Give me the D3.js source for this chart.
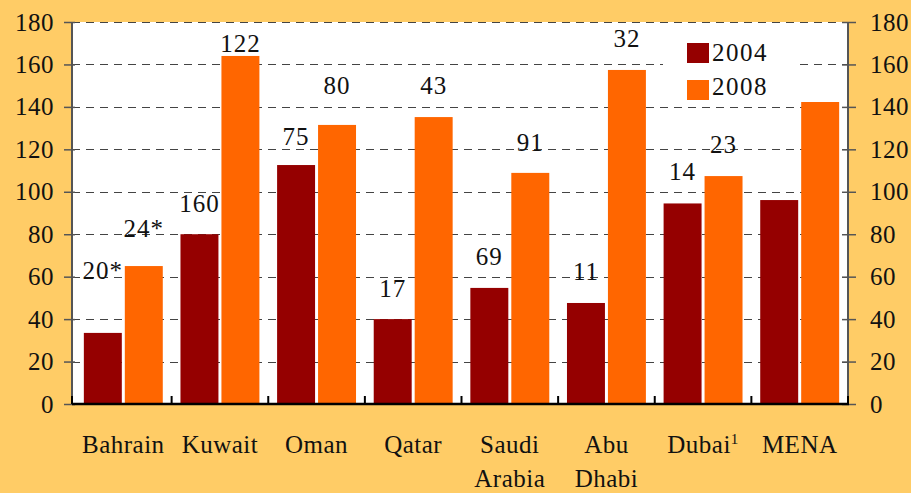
<!DOCTYPE html>
<html>
<head>
<meta charset="utf-8">
<script src="https://cdn.jsdelivr.net/npm/d3@7"></script>
<style>
  body { margin: 0; background: #FFCC66; }
  text { font-family: "Liberation Serif", "DejaVu Serif", serif; fill: #111; }
</style>
</head>
<body>
<div id="chart"></div>
<script>
// categories and series
var categories = ["Bahrain", "Kuwait", "Oman", "Qatar", "Saudi Arabia", "Abu Dhabi", "Dubai", "MENA"];
var series = ["2004", "2008"];
var values2004 = [33.5, 80, 112.6, 40, 54.7, 47.6, 94.5, 96.1];
var values2008 = [65, 164, 131.5, 135.2, 108.9, 157.4, 107.4, 142.3];
// annotations written above bars, and the height (in chart units) they sit at
var labels2004 = ["20*", "160", "75", "17", "69", "11", "14", ""];
var labels2008 = ["24*", "122", "80", "43", "91", "32", "23", ""];
var labelAt2004 = [59, 90.5, 122, 50.4, 65.5, 58.4, 105.6, 0];
var labelAt2008 = [78.7, 165.9, 146.1, 146.1, 119.2, 168.2, 118.3, 0];
var yTicks = [0, 20, 40, 60, 80, 100, 120, 140, 160, 180];

var colors = { "2004": "#950000", "2008": "#FF6600" };

var W = 911, H = 493;
var svg = d3.select("#chart").append("svg")
    .attr("width", W).attr("height", H);

var pLeft = 72, pRight = 848, pTop = 22, pBottom = 404;
var FS = "25px";

var y = d3.scaleLinear().domain([0, 180]).range([pBottom, pTop]);
var x0 = d3.scaleBand().domain(categories).range([75, pRight]).padding(0);
var x1 = d3.scaleBand().domain(series).range([0, x0.bandwidth()])
    .paddingInner(0.073).paddingOuter(0.216);

// plot area
svg.append("rect")
    .attr("x", pLeft).attr("y", pTop)
    .attr("width", pRight - pLeft).attr("height", pBottom - pTop)
    .attr("fill", "#fff");

// grid
svg.append("g").selectAll("line")
    .data(yTicks.filter(function(d) { return d > 0; }))
    .enter().append("line")
    .attr("x1", pLeft).attr("x2", pRight)
    .attr("y1", function(d) { return Math.round(y(d)) + 0.5; })
    .attr("y2", function(d) { return Math.round(y(d)) + 0.5; })
    .attr("stroke", "#444")
    .attr("stroke-dasharray", "8,6");

var data = [];
categories.forEach(function(c, i) {
    data.push({ cat: c, s: "2004", v: values2004[i], lab: labels2004[i], at: labelAt2004[i] });
    data.push({ cat: c, s: "2008", v: values2008[i], lab: labels2008[i], at: labelAt2008[i] });
});

// bars
svg.append("g").selectAll("rect")
    .data(data)
    .enter().append("rect")
    .attr("x", function(d) { return x0(d.cat) + x1(d.s); })
    .attr("y", function(d) { return y(d.v); })
    .attr("width", x1.bandwidth())
    .attr("height", function(d) { return y(0) - y(d.v); })
    .attr("fill", function(d) { return colors[d.s]; });

// annotations
svg.append("g").selectAll("text")
    .data(data.filter(function(d) { return d.lab; }))
    .enter().append("text")
    .attr("x", function(d) { return x0(d.cat) + x1(d.s) + x1.bandwidth() / 2; })
    .attr("y", function(d) { return y(d.at); })
    .attr("text-anchor", "middle")
    .style("font-size", FS)
    .style("letter-spacing", "1px")
    .text(function(d) { return d.lab; });

// legend
var lg = svg.append("g");
lg.append("rect").attr("x", 663).attr("y", 28).attr("width", 132).attr("height", 74).attr("fill", "#fff");
series.forEach(function(s, i) {
    lg.append("rect")
        .attr("x", 687).attr("y", 43 + i * 37)
        .attr("width", 22).attr("height", 20)
        .attr("fill", colors[s]);
    lg.append("text")
        .attr("x", 712).attr("y", 61 + i * 34)
        .style("font-size", FS)
        .style("letter-spacing", "1.5px")
        .text(s);
});

// left and right axes
var yl = svg.append("g").attr("transform", "translate(" + pLeft + ",0)")
    .call(d3.axisLeft(y).tickValues(yTicks).tickSize(8).tickPadding(10));
var yr = svg.append("g").attr("transform", "translate(" + pRight + ",0)")
    .call(d3.axisRight(y).tickValues(yTicks).tickSize(8).tickPadding(14));
[yl, yr].forEach(function(g) {
    g.select(".domain").attr("stroke", "#555").attr("stroke-width", 2).attr("d", "M0," + pTop + "V" + pBottom);
    g.selectAll(".tick line").attr("stroke", "#555").attr("stroke-width", 1.5)
        .attr("x1", function() { return g === yl ? 3 : -6; });
    g.selectAll(".tick text").style("font-size", FS).attr("fill", "#111")
        .style("letter-spacing", "0.5px")
        .style("font-family", "'Liberation Serif', 'DejaVu Serif', serif");
});

// bottom axis
var bx = svg.append("g").attr("transform", "translate(0," + pBottom + ")");
bx.append("line").attr("x1", pLeft).attr("x2", pRight + 1).attr("stroke", "#000").attr("stroke-width", 2.5);
var bounds = [pLeft].concat(categories.slice(1).map(function(c) { return x0(c); })).concat([pRight]);
bx.selectAll("line.tk").data(bounds).enter().append("line")
    .attr("class", "tk")
    .attr("x1", function(d) { return d; }).attr("x2", function(d) { return d; })
    .attr("y1", 0).attr("y2", -8)
    .attr("stroke", "#000").attr("stroke-width", 2);

// category labels
var catText = bx.selectAll("text.cat").data(categories).enter().append("text")
    .attr("class", "cat")
    .attr("text-anchor", "middle")
    .attr("y", 49)
    .style("font-size", FS)
    .style("letter-spacing", "0.5px");
catText.each(function(c) {
    var t = d3.select(this);
    var cx = x0(c) + x0.bandwidth() / 2;
    var words = c.split(" ");
    if (c === "Dubai") {
        t.append("tspan").attr("x", cx).text("Dubai");
        t.append("tspan").attr("dy", -9).style("font-size", "15px").text("1");
        return;
    }
    words.forEach(function(w, i) {
        t.append("tspan").attr("x", cx).attr("dy", i === 0 ? 0 : 34).text(w);
    });
});
</script>
</body>
</html>
